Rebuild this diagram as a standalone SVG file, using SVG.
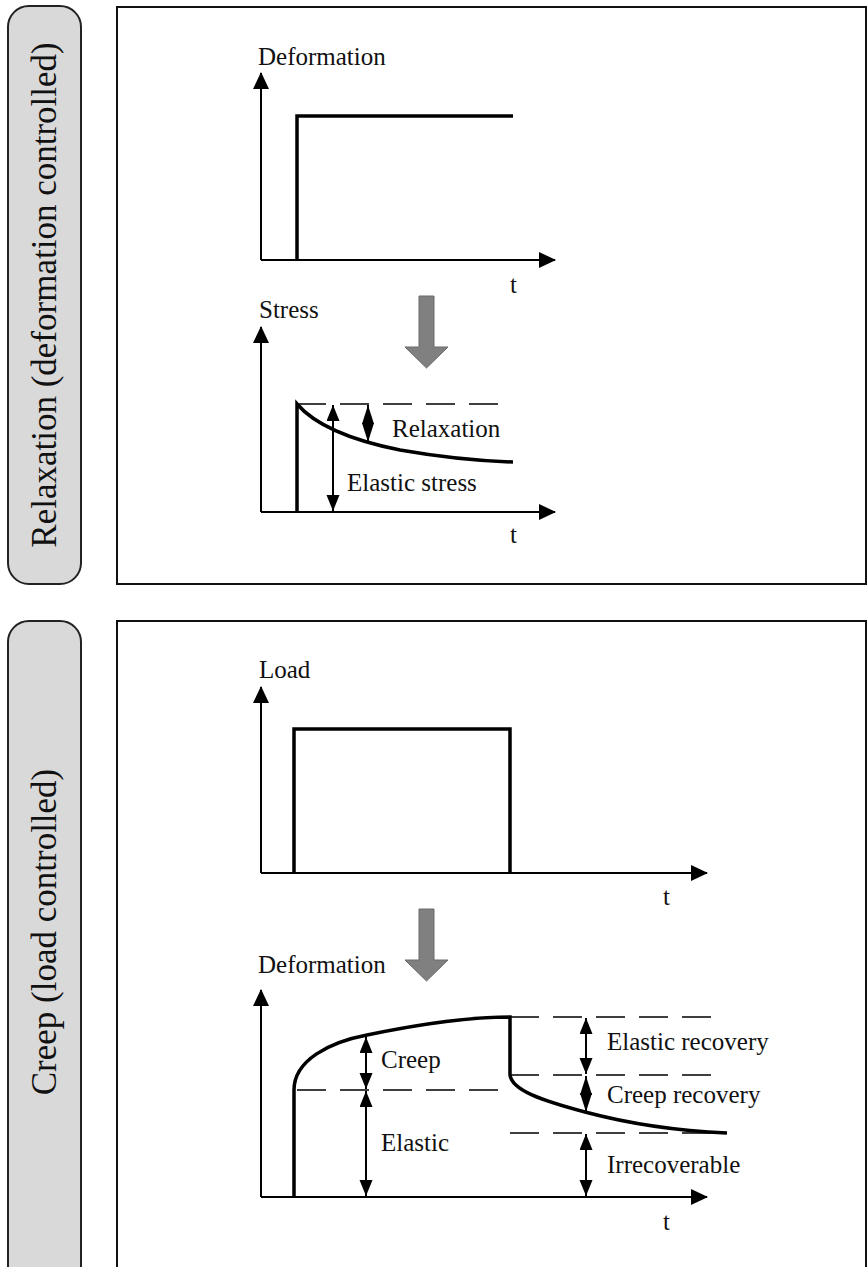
<svg xmlns="http://www.w3.org/2000/svg" width="867" height="1267" viewBox="0 0 867 1267">
<style>
.lbl{font-family:"Liberation Serif","Times New Roman",serif;font-size:25px;fill:#111}
.side{font-family:"Liberation Serif","Times New Roman",serif;font-size:35px;fill:#111}
.tab{fill:#d9d9d9;stroke:#222;stroke-width:2}
.frame{fill:#fff;stroke:#111;stroke-width:2}
.axis{fill:none;stroke:#000;stroke-width:2}
.sig{fill:none;stroke:#000;stroke-width:3.5;stroke-linejoin:miter}
.dash{fill:none;stroke:#000;stroke-width:1.6;stroke-dasharray:29 14}
.dim{fill:none;stroke:#000;stroke-width:2}
.big{fill:#808080;stroke:#6a6a6a;stroke-width:1}
</style>
<defs>
<marker id="ax" markerUnits="userSpaceOnUse" markerWidth="17" markerHeight="17" refX="16" refY="8" orient="auto"><path d="M0,0 L17,8 L0,16 z" fill="#000"/></marker>
<marker id="dh" markerUnits="userSpaceOnUse" markerWidth="17" markerHeight="14" refX="16" refY="6.5" orient="auto-start-reverse"><path d="M0,0 L16,6.5 L0,13 z" fill="#000"/></marker>
<marker id="dd" markerUnits="userSpaceOnUse" markerWidth="20" markerHeight="14" refX="19" refY="6" orient="auto-start-reverse"><path d="M0,0 L19,6 L0,12 z" fill="#000"/></marker>
</defs>

<g id="tab-relaxation">
<rect class="tab" x="8" y="6" width="73" height="578" rx="21"/>
<text class="side" transform="translate(56,295) rotate(-90)" text-anchor="middle">Relaxation (deformation controlled)</text>
</g>
<g id="tab-creep">
<rect class="tab" x="8" y="621" width="73" height="700" rx="21"/>
<text class="side" transform="translate(56,932) rotate(-90)" text-anchor="middle">Creep (load controlled)</text>
</g>
<g id="panel-relaxation"><rect class="frame" x="117" y="7" width="749" height="577"/></g>
<g id="panel-creep"><rect class="frame" x="117" y="621" width="749" height="700"/></g>

<g id="chart-deformation-input">
<path class="axis" d="M261,260 L261,73" marker-end="url(#ax)"/>
<path class="axis" d="M261,260 L555,260" marker-end="url(#ax)"/>
<polyline class="sig" points="297,260 297,116 513,116"/>
<text class="lbl" x="258" y="65">Deformation</text>
<text class="lbl" x="510" y="293">t</text>
</g>

<g id="flow-arrow-1"><path class="big" d="M419,296 L434,296 L434,347 L448,347 L426.5,368 L405,347 L419,347 z"/></g>

<g id="chart-stress">
<path class="axis" d="M261,512 L261,327" marker-end="url(#ax)"/>
<path class="axis" d="M261,512 L555,512" marker-end="url(#ax)"/>
<path class="dash" d="M297,404 L500,404"/>
<path class="sig" d="M297,512 L297,404 C315,425 350,440 400,450 C440,457 480,461 513,462"/>
<text class="lbl" x="259" y="318">Stress</text>
<text class="lbl" x="392" y="437">Relaxation</text>
<text class="lbl" x="347" y="491">Elastic stress</text>
<text class="lbl" x="510" y="543">t</text>
</g>

<g id="chart-load">
<path class="axis" d="M261,873 L261,687" marker-end="url(#ax)"/>
<path class="axis" d="M261,873 L707,873" marker-end="url(#ax)"/>
<polyline class="sig" points="294,873 294,729 510,729 510,873"/>
<text class="lbl" x="259" y="678">Load</text>
<text class="lbl" x="663" y="905">t</text>
</g>

<g id="flow-arrow-2"><path class="big" d="M419,909 L434,909 L434,960 L448,960 L426.5,981 L405,960 L419,960 z"/></g>

<g id="chart-deformation-response">
<path class="axis" d="M261,1197 L261,990" marker-end="url(#ax)"/>
<path class="axis" d="M261,1197 L707,1197" marker-end="url(#ax)"/>
<path class="dash" d="M297,1090 L498,1090"/>
<path class="dash" d="M510,1017 L713,1017"/>
<path class="dash" d="M510,1075 L713,1075"/>
<path class="dash" d="M510,1133 L725,1133"/>
<path class="sig" d="M294,1197 L294,1090 C294,1060 330,1042 367,1035 C420,1024 470,1017 510,1017 L510,1075 C512,1090 540,1100 585,1112 C630,1124 680,1131 727,1133"/>
<text class="lbl" x="258" y="973">Deformation</text>
<text class="lbl" x="381" y="1068">Creep</text>
<text class="lbl" x="381" y="1151">Elastic</text>
<text class="lbl" x="607" y="1050">Elastic recovery</text>
<text class="lbl" x="607" y="1103">Creep recovery</text>
<text class="lbl" x="607" y="1173">Irrecoverable</text>
<text class="lbl" x="663" y="1230">t</text>
</g>

<g id="connectors">
<path class="dim" d="M333,405 L333,511" marker-start="url(#dh)" marker-end="url(#dh)"/>
<path class="dim" d="M368,405 L368,442" marker-start="url(#dd)" marker-end="url(#dd)"/>
<path class="dim" d="M366,1037 L366,1089" marker-start="url(#dh)" marker-end="url(#dh)"/>
<path class="dim" d="M366,1091 L366,1196" marker-start="url(#dh)" marker-end="url(#dh)"/>
<path class="dim" d="M586,1018 L586,1074" marker-start="url(#dh)" marker-end="url(#dh)"/>
<path class="dim" d="M586,1076 L586,1112" marker-start="url(#dd)" marker-end="url(#dd)"/>
<path class="dim" d="M586,1134 L586,1196" marker-start="url(#dh)" marker-end="url(#dh)"/>
</g>
</svg>
